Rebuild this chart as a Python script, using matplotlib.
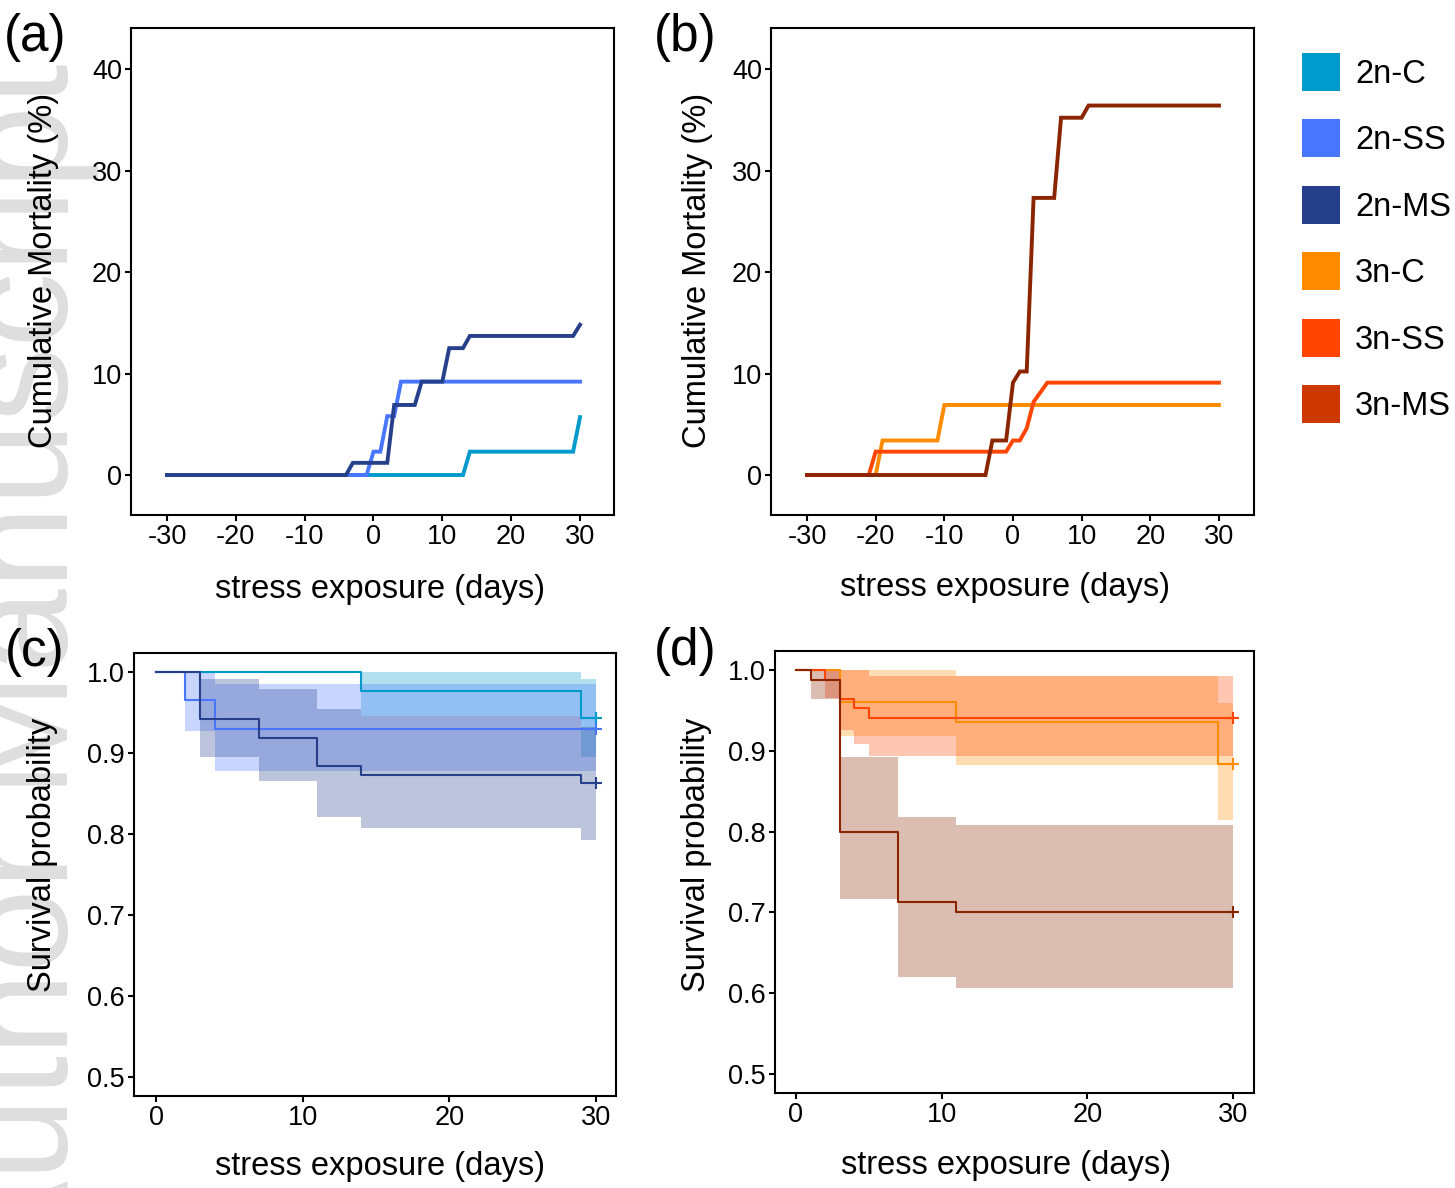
import matplotlib
matplotlib.use("Agg")
import matplotlib.pyplot as plt
from matplotlib.patches import Rectangle

plt.rcParams['font.family'] = ['Liberation Sans', 'DejaVu Sans']
plt.rcParams['axes.unicode_minus'] = False

# ---------------- data ----------------
groups = ["2n-C", "2n-SS", "2n-MS", "3n-C", "3n-SS", "3n-MS"]
legend_colors = ["#009ACD", "#4876FF", "#27408B", "#FF8C00", "#FF4500", "#CD3700"]
line_colors = ["#009ACD", "#4876FF", "#27408B", "#FF8C00", "#FF4500", "#8B2500"]

# panel (a)/(b): cumulative mortality (%) vs stress exposure (days)
cm_days_2nC = [-30, 13, 14, 29, 30]
cm_val_2nC = [0, 0, 2.3, 2.3, 5.7]
cm_days_2nSS = [-30, -1, 0, 1, 2, 3, 4, 30]
cm_val_2nSS = [0, 0, 2.3, 2.3, 5.8, 5.8, 9.2, 9.2]
cm_days_2nMS = [-30, -4, -3, 2, 3, 6, 7, 10, 11, 13, 14, 29, 30]
cm_val_2nMS = [0, 0, 1.2, 1.2, 6.9, 6.9, 9.2, 9.2, 12.5, 12.5, 13.7, 13.7, 14.8]
cm_days_3nC = [-30, -20, -19, -11, -10, 30]
cm_val_3nC = [0, 0, 3.4, 3.4, 6.9, 6.9]
cm_days_3nSS = [-30, -21, -20, -1, 0, 1, 2, 3, 5, 30]
cm_val_3nSS = [0, 0, 2.3, 2.3, 3.4, 3.4, 4.6, 7.2, 9.1, 9.1]
cm_days_3nMS = [-30, -4, -3, -1, 0, 1, 2, 3, 6, 7, 10, 11, 30]
cm_val_3nMS = [0, 0, 3.4, 3.4, 9.1, 10.2, 10.2, 27.3, 27.3, 35.2, 35.2, 36.4, 36.4]

# panel (c)/(d): Kaplan-Meier survival with confidence bands
km_t_2nC = [0, 14, 29, 30]
km_s_2nC = [1.0, 0.977, 0.943, 0.943]
km_lo_2nC = [1.0, 0.946, 0.895, 0.895]
km_hi_2nC = [1.0, 1.0, 0.992, 0.992]

km_t_2nSS = [0, 2, 4, 30]
km_s_2nSS = [1.0, 0.965, 0.930, 0.930]
km_lo_2nSS = [1.0, 0.927, 0.878, 0.878]
km_hi_2nSS = [1.0, 1.0, 0.985, 0.985]

km_t_2nMS = [0, 3, 7, 11, 14, 29, 30]
km_s_2nMS = [1.0, 0.942, 0.919, 0.884, 0.873, 0.863, 0.863]
km_lo_2nMS = [1.0, 0.895, 0.865, 0.821, 0.807, 0.793, 0.793]
km_hi_2nMS = [1.0, 0.992, 0.979, 0.954, 0.946, 0.932, 0.932]

km_t_3nC = [0, 3, 11, 29, 30]
km_s_3nC = [1.0, 0.961, 0.936, 0.884, 0.884]
km_lo_3nC = [1.0, 0.918, 0.882, 0.814, 0.814]
km_hi_3nC = [1.0, 1.0, 0.992, 0.959, 0.959]

km_t_3nSS = [0, 2, 3, 4, 5, 30]
km_s_3nSS = [1.0, 0.987, 0.964, 0.953, 0.940, 0.940]
km_lo_3nSS = [1.0, 0.965, 0.926, 0.909, 0.893, 0.893]
km_hi_3nSS = [1.0, 1.0, 1.0, 1.0, 0.992, 0.992]

km_t_3nMS = [0, 1, 3, 7, 11, 30]
km_s_3nMS = [1.0, 0.987, 0.800, 0.7125, 0.700, 0.700]
km_lo_3nMS = [1.0, 0.964, 0.717, 0.620, 0.607, 0.607]
km_hi_3nMS = [1.0, 1.0, 0.892, 0.8185, 0.808, 0.808]

cm_yticks = [0, 10, 20, 30, 40]
cm_ytick_labels = ["0", "10", "20", "30", "40"]
cm_xticks = [-30, -20, -10, 0, 10, 20, 30]
cm_xtick_labels = ["-30", "-20", "-10", "0", "10", "20", "30"]
km_yticks = [0.5, 0.6, 0.7, 0.8, 0.9, 1.0]
km_ytick_labels = ["0.5", "0.6", "0.7", "0.8", "0.9", "1.0"]
km_xticks = [0, 10, 20, 30]
km_xtick_labels = ["0", "10", "20", "30"]

xlab = "stress exposure (days)"
ylab_cm = "Cumulative Mortality (%)"
ylab_km = "Survival probability"
watermark = "Author Manuscript"

# ---------------- figure ----------------
W, H = 1455, 1188
fig = plt.figure(figsize=(W / 100, H / 100), dpi=100)

# faint watermark behind everything
fig.text(68 / W, 1 - 1280 / H, watermark, rotation=90, rotation_mode='anchor',
         ha='left', va='baseline', fontsize=108, color='#DEDEDE', zorder=-5)

def px_axes(l, t, r, b):
    return fig.add_axes([l / W, 1 - b / H, (r - l) / W, (b - t) / H])

ax_a = px_axes(131, 28, 614, 515)
ax_b = px_axes(771, 28, 1254, 515)
ax_c = px_axes(134, 653, 616, 1096)
ax_d = px_axes(775, 651, 1254, 1093)

TICK_FS = 19.5
LAB_FS = 23.5

def style(ax):
    for s in ax.spines.values():
        s.set_linewidth(1.5)
        s.set_color('black')
    ax.tick_params(direction='out', length=4, width=1.5, colors='black',
                   labelsize=TICK_FS, pad=2.5)

# panel (a)
for d, v, c in [(cm_days_2nC, cm_val_2nC, line_colors[0]),
                (cm_days_2nSS, cm_val_2nSS, line_colors[1]),
                (cm_days_2nMS, cm_val_2nMS, line_colors[2])]:
    ax_a.plot(d, v, color=c, lw=2.8, solid_joinstyle='miter')
# panel (b)
for d, v, c in [(cm_days_3nC, cm_val_3nC, line_colors[3]),
                (cm_days_3nSS, cm_val_3nSS, line_colors[4]),
                (cm_days_3nMS, cm_val_3nMS, line_colors[5])]:
    ax_b.plot(d, v, color=c, lw=2.8, solid_joinstyle='miter')

for ax, xl in [(ax_a, (-35.23, 34.94)), (ax_b, (-35.24, 35.10))]:
    style(ax)
    ax.set_xlim(*xl)
    ax.set_ylim(-3.94, 44.04)
    ax.set_xticks(cm_xticks)
    ax.set_xticklabels(cm_xtick_labels)
    ax.set_yticks(cm_yticks)
    ax.set_yticklabels(cm_ytick_labels)
    ax.set_xlabel(xlab, fontsize=LAB_FS)
    ax.set_ylabel(ylab_cm, fontsize=LAB_FS)

def km(ax, t, s, lo, hi, c):
    ax.fill_between(t, lo, hi, step='post', color=c, alpha=0.3, linewidth=0)
    ax.step(t, s, where='post', color=c, lw=1.5)
    ax.plot([t[-1]], [s[-1]], marker='+', color=c, markersize=9, mew=1.5)

km(ax_c, km_t_2nC, km_s_2nC, km_lo_2nC, km_hi_2nC, line_colors[0])
km(ax_c, km_t_2nSS, km_s_2nSS, km_lo_2nSS, km_hi_2nSS, line_colors[1])
km(ax_c, km_t_2nMS, km_s_2nMS, km_lo_2nMS, km_hi_2nMS, line_colors[2])
km(ax_d, km_t_3nC, km_s_3nC, km_lo_3nC, km_hi_3nC, line_colors[3])
km(ax_d, km_t_3nSS, km_s_3nSS, km_lo_3nSS, km_hi_3nSS, line_colors[4])
km(ax_d, km_t_3nMS, km_s_3nMS, km_lo_3nMS, km_hi_3nMS, line_colors[5])

for ax, xl in [(ax_c, (-1.50, 31.36)), (ax_d, (-1.44, 31.44))]:
    style(ax)
    ax.set_xlim(*xl)
    ax.set_ylim(0.4765, 1.0235)
    ax.set_xticks(km_xticks)
    ax.set_xticklabels(km_xtick_labels)
    ax.set_yticks(km_yticks)
    ax.set_yticklabels(km_ytick_labels)
    ax.set_xlabel(xlab, fontsize=LAB_FS)
    ax.set_ylabel(ylab_km, fontsize=LAB_FS)

# label positions (axes fraction)
label_pos = {
    'a': ((0.5155, -0.152), (-0.182, 0.503)),
    'b': ((0.4845, -0.148), (-0.153, 0.503)),
    'c': ((0.511, -0.160), (-0.189, 0.544)),
    'd': ((0.482, -0.163), (-0.163, 0.538)),
}
for key, ax in zip('abcd', [ax_a, ax_b, ax_c, ax_d]):
    (xx, xy), (yx, yy) = label_pos[key]
    ax.xaxis.set_label_coords(xx, xy)
    ax.xaxis.label.set_verticalalignment('center')
    ax.yaxis.set_label_coords(yx, yy)
    ax.yaxis.label.set_verticalalignment('center')

# panel letters
for txt, x, y in [("(a)", 35, 38), ("(b)", 685, 38), ("(c)", 35, 652), ("(d)", 685, 651)]:
    fig.text(x / W, 1 - y / H, txt, fontsize=37, ha='center', va='center')

# legend (colour keys + labels)
LEG_FS = 23.5
for i, (g, c) in enumerate(zip(groups, legend_colors)):
    yc = 72 + i * 66.4
    fig.add_artist(Rectangle((1302 / W, 1 - (yc + 19) / H), 38 / W, 38 / H,
                             transform=fig.transFigure, facecolor=c, edgecolor='none'))
    fig.text(1355 / W, 1 - (yc + 2.5) / H, g, fontsize=LEG_FS, ha='left', va='center')

fig.savefig("out.png", dpi=100)
